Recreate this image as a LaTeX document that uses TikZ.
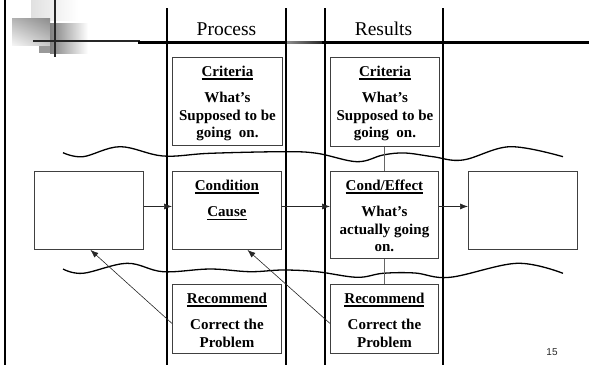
\documentclass[tikz,border=0pt]{standalone}
\usepackage{fontspec}
\setmainfont{Liberation Serif}
\newfontfamily\numfont{Liberation Sans}
\usetikzlibrary{arrows.meta,shadings}
\newcommand\myul[1]{\setbox0\hbox{#1}\rlap{\vrule width\wd0 height -2.1pt depth 3.4pt}\box0}
\begin{document}
\begin{tikzpicture}[x=1pt,y=-1pt,
  boxst/.style={draw=black!75, line width=0.9pt, inner sep=0pt, anchor=north west},
  txt/.style={font=\bfseries\fontsize{15}{17.5}\selectfont, align=center, inner sep=0pt, anchor=north},
  head/.style={font=\fontsize{19.5}{22}\selectfont, inner sep=0pt, anchor=base},
  arr/.style={-{Latex[length=8pt,width=6pt]}, line width=0.6pt, black!85},
  conn/.style={line width=0.8pt, black!60},
  wave/.style={line width=1.3pt, black},
  colline/.style={line width=2pt, black}]
\useasboundingbox (0,0) rectangle (589,365);
% logo
\shade[left color=black!12, right color=white] (31,0) rectangle (78,20);
\shade[upper left=black!30, upper right=black!45, lower left=black!4, lower right=black!22] (12,18) rectangle (50,45);
\shade[left color=black!50, right color=white] (50,23) rectangle (88,53);
\fill[black!40] (39,46) rectangle (50,53);
\draw[line width=2.5pt, black!85] (55,0) -- (55,57);
\draw[line width=2pt, black] (5,0) -- (5,365);
\draw[line width=2.2pt, black!85] (33,41) -- (140,41);
\draw[line width=2.8pt, black] (138,42.5) -- (287,42.5);
\shade[left color=black!45, right color=black!85] (287,41.1) rectangle (322,43.9);
\draw[line width=2.8pt, black] (322,42.5) -- (589,42.5);
% column lines
\draw[colline] (167,8) -- (167,365);
\draw[colline] (286,8) -- (286,365);
\draw[colline] (324.5,8) -- (324.5,365);
\draw[colline] (443,8) -- (443,365);
% headers
\node[head] (hproc) at (226.5,35) {Process};
\node[head] (hres) at (383.5,35) {Results};
% waves
\draw[wave] plot[smooth, tension=0.6] coordinates {(63,152.7) (83,156.7) (120,146.7) (163,156) (210,153.3) (283,151.7) (317,153.3) (357,161.7) (383,155) (405,153) (433,156.7) (463,160) (510,146.7) (563,156.7)};
\draw[wave] plot[smooth, tension=0.6] coordinates {(63,269) (83,273.3) (127,263.3) (163,271.7) (210,269) (250,271.7) (283,270) (317,271.7) (357,277.3) (383,273.3) (415,273) (450,277.3) (517,263.3) (563,273.3)};
% boxes
\node[boxst, minimum width=110pt, minimum height=88pt] (crit1) at (172,57) {};
\node[boxst, minimum width=109pt, minimum height=89pt] (crit2) at (330,57) {};
\node[boxst, minimum width=109pt, minimum height=78pt] (left) at (34,171) {};
\node[boxst, minimum width=109pt, minimum height=78pt] (cond) at (172,171) {};
\node[boxst, minimum width=108pt, minimum height=87pt] (condeff) at (330,171) {};
\node[boxst, minimum width=109pt, minimum height=78pt] (right) at (468,171) {};
\node[boxst, minimum width=109pt, minimum height=69pt] (rec1) at (172,284) {};
\node[boxst, minimum width=108pt, minimum height=69pt] (rec2) at (330,284) {};
% texts
\node[txt] (crit1t) at ([yshift=-8.5pt]crit1.north) {\myul{Criteria}\\[9pt]What’s\\Supposed to be\\going\ \ on.};
\node[txt] (crit2t) at ([yshift=-8.5pt]crit2.north) {\myul{Criteria}\\[9pt]What’s\\Supposed to be\\going\ \ on.};
\node[txt] (condt) at ([yshift=-8.5pt]cond.north) {\myul{Condition}\\[9pt]\myul{Cause}};
\node[txt] (condefft) at ([yshift=-8.5pt]condeff.north) {\myul{Cond/Effect}\\[9pt]What’s\\actually going\\on.};
\node[txt] (rec1t) at ([yshift=-8.5pt]rec1.north) {\myul{Recommend}\\[9pt]Correct the\\Problem};
\node[txt] (rec2t) at ([yshift=-8.5pt]rec2.north) {\myul{Recommend}\\[9pt]Correct the\\Problem};
% connectors
\draw[arr] ([yshift=4pt]left.east) -- ([yshift=4pt]cond.west);
\draw[arr] ([yshift=4pt]cond.east) -- ([yshift=8.5pt]condeff.west);
\draw[arr] ([yshift=8.5pt]condeff.east) -- ([yshift=4pt]right.west);
\draw[conn] (condeff.north |- crit2.south) -- (condeff.north);
\draw[conn] (condeff.south) -- (rec2.north);
\draw[arr] ([yshift=-4.5pt]rec1.west) -- ([xshift=1.5pt]left.south);
\draw[arr] ([yshift=-4.5pt]rec2.west) -- ([xshift=20.5pt]cond.south);
% page number
\node[font=\numfont\fontsize{10}{12}\selectfont, text=black!85, inner sep=0pt] (pg) at (552,352) {15};
\end{tikzpicture}
\end{document}
